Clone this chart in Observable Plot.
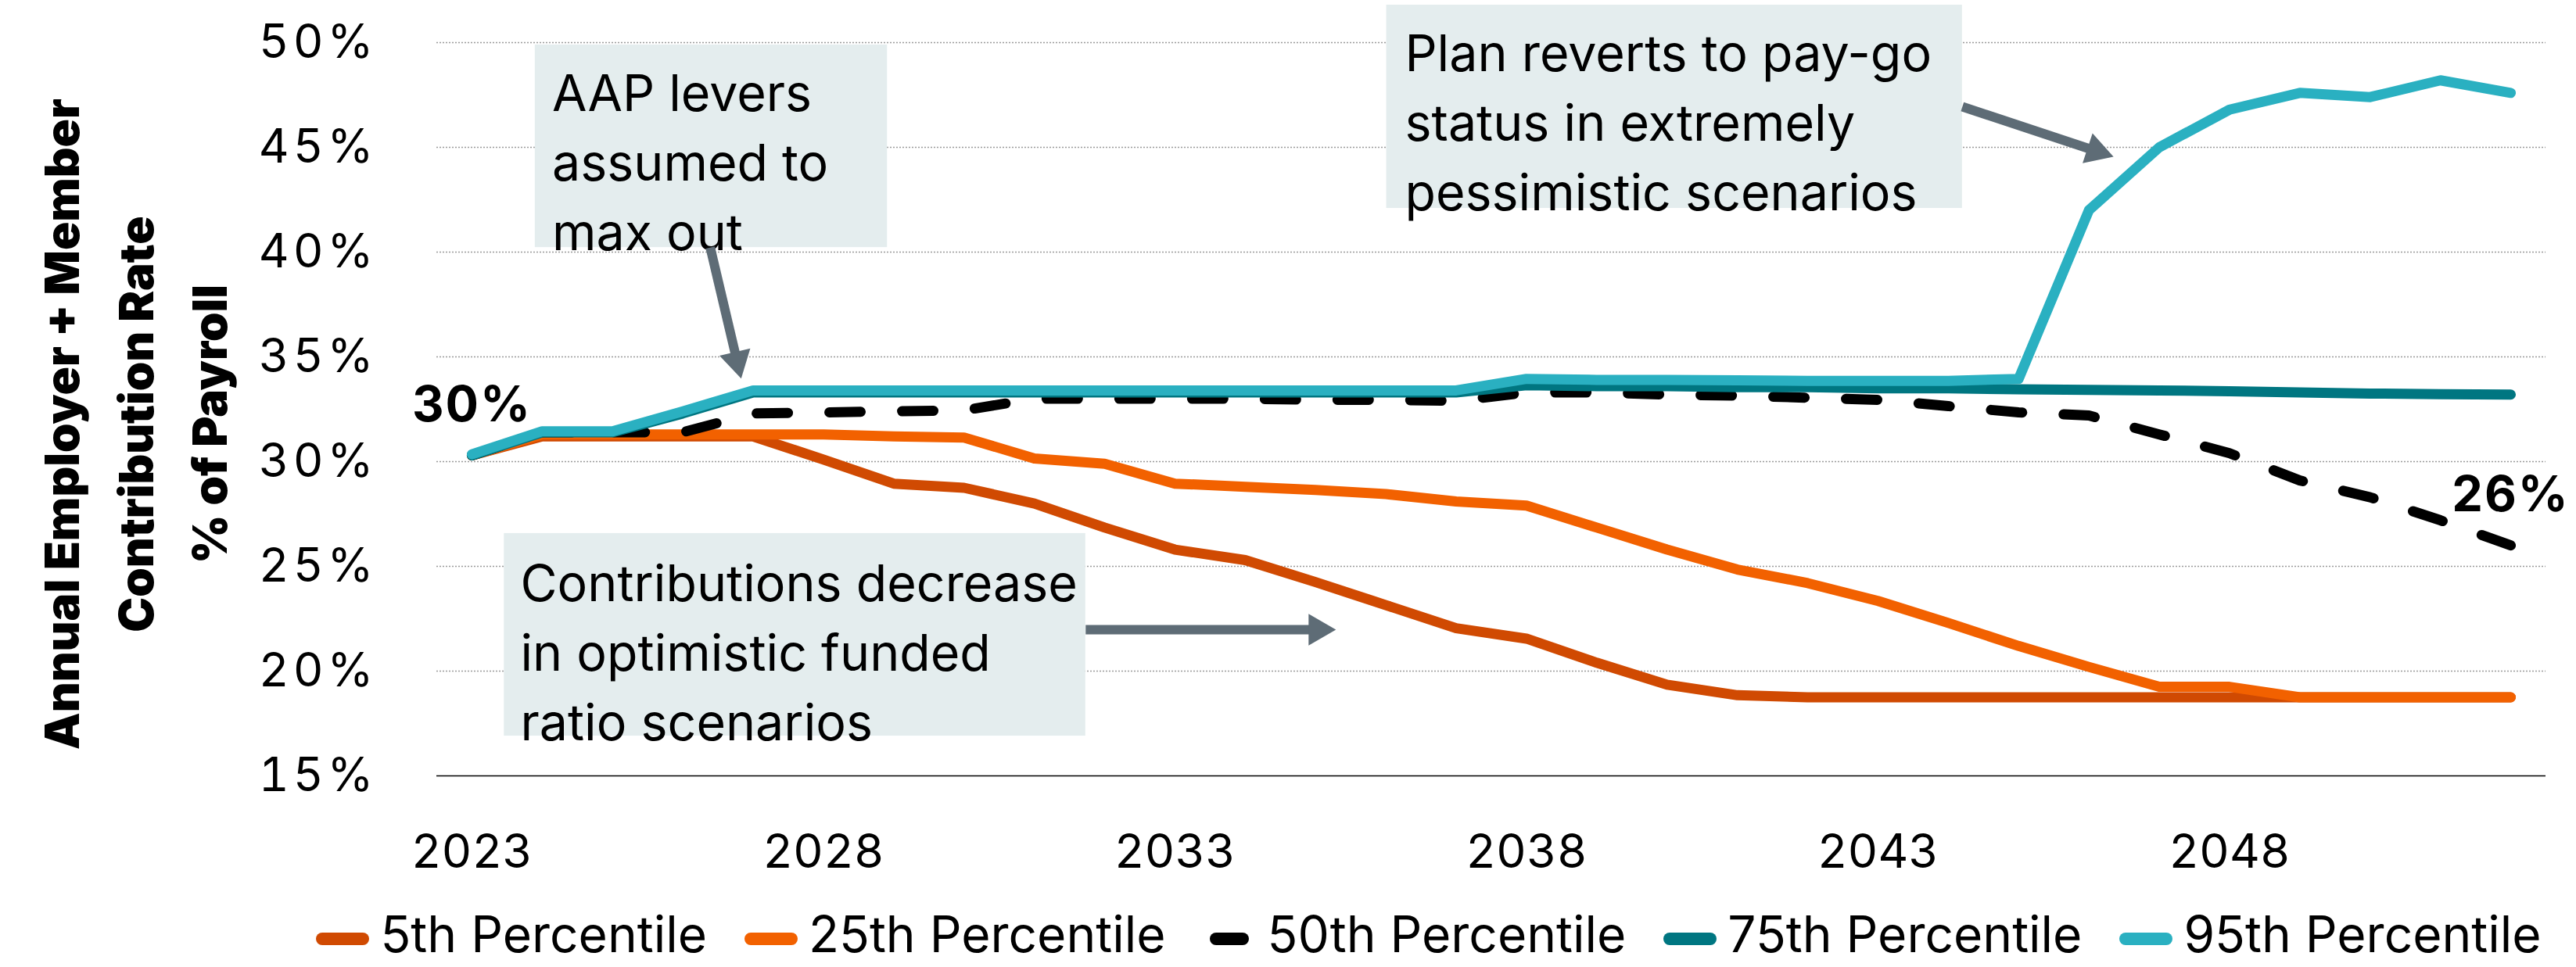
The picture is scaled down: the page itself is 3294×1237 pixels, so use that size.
<!DOCTYPE html>
<html>
<head>
<meta charset="utf-8">
<script src="https://cdn.jsdelivr.net/npm/d3@7"></script>
<script src="https://cdn.jsdelivr.net/npm/@observablehq/plot@0.6"></script>
<style>
  html, body { margin: 0; padding: 0; background: #fff; }
  #chart { position: relative; width: 3294px; height: 1237px; font-family: Inter, sans-serif; }
  .legend { display: flex; justify-content: center; align-items: center; height: 80px; padding: 10px 0 0 360px; box-sizing: border-box; font-size: 64px; color: #000; }
  .item { display: flex; align-items: center; margin: 0 24px; line-height: 1; white-space: nowrap; }
  .sw { display: inline-block; width: 68px; height: 16px; border-radius: 8px; margin-right: 14px; position: relative; top: 6px; }
  .sw.dash { width: 50px; margin-left: 9px; margin-right: 23px; }
  g[aria-label="y-axis tick label"] text { letter-spacing: 5px; }
  .end-label text { letter-spacing: 2px; }
</style>
</head>
<body>
<div id="chart"></div>
<script>
// Projection years
const years = [2023, 2024, 2025, 2026, 2027, 2028, 2029, 2030, 2031, 2032,
               2033, 2034, 2035, 2036, 2037, 2038, 2039, 2040, 2041, 2042,
               2043, 2044, 2045, 2046, 2047, 2048, 2049, 2050, 2051, 2052];

// Employer + member contribution rate (% of payroll) by percentile outcome
const p5  = [30.3, 31.2, 31.2, 31.2, 31.2, 30.1, 28.95, 28.75, 28.0, 26.85,
             25.8, 25.3, 24.25, 23.15, 22.05, 21.55, 20.4, 19.35, 18.85, 18.75,
             18.75, 18.75, 18.75, 18.75, 18.75, 18.75, 18.75, 18.75, 18.75, 18.75];
const p25 = [30.3, 31.3, 31.3, 31.3, 31.3, 31.3, 31.2, 31.15, 30.15, 29.9,
             28.95, 28.8, 28.65, 28.45, 28.1, 27.9, 26.85, 25.8, 24.85, 24.2,
             23.35, 22.3, 21.2, 20.2, 19.25, 19.25, 18.75, 18.75, 18.75, 18.75];
const p50 = [30.3, 31.4, 31.4, 31.4, 32.3, 32.35, 32.4, 32.45, 33.0, 33.0,
             33.0, 33.0, 32.95, 32.95, 32.9, 33.3, 33.3, 33.2, 33.15, 33.05,
             32.95, 32.65, 32.35, 32.2, 31.3, 30.4, 29.1, 28.3, 27.2, 26.0];
const p75 = [30.3, 31.4, 31.4, 32.3, 33.3, 33.3, 33.3, 33.3, 33.3, 33.3,
             33.3, 33.3, 33.3, 33.3, 33.3, 33.65, 33.6, 33.6, 33.55, 33.55,
             33.5, 33.5, 33.45, 33.42, 33.4, 33.36, 33.3, 33.25, 33.22, 33.2];
const p95 = [30.35, 31.45, 31.45, 32.4, 33.4, 33.4, 33.4, 33.4, 33.4, 33.4,
             33.4, 33.4, 33.4, 33.4, 33.4, 33.95, 33.9, 33.9, 33.88, 33.85,
             33.85, 33.85, 33.95, 42.0, 45.0, 46.8, 47.6, 47.4, 48.2, 47.6];

const seriesNames  = ["5th Percentile", "25th Percentile", "50th Percentile", "75th Percentile", "95th Percentile"];
const seriesValues = [p5, p25, p50, p75, p95];
const seriesColors = ["#D04A02", "#F26100", "#000000", "#007681", "#2AB0C1"];

const xTicks = [2023, 2028, 2033, 2038, 2043, 2048];
const yTicks = [15, 20, 25, 30, 35, 40, 45, 50];

const yTitle = "Annual Employer + Member\nContribution Rate\n% of Payroll";

// Callout boxes, anchored in data units (year, percent)
const notes = [
  {text: "AAP levers\nassumed to\nmax out",
   x1: 2023.90, x2: 2028.91, y1: 40.22, y2: 49.89, tx: 2024.14, ty: 49.08},
  {text: "Plan reverts to pay-go\nstatus in extremely\npessimistic scenarios",
   x1: 2036.01, x2: 2044.20, y1: 42.09, y2: 51.79, tx: 2036.27, ty: 51.0},
  {text: "Contributions decrease\nin optimistic funded\nratio scenarios",
   x1: 2023.46, x2: 2031.73, y1: 16.90, y2: 26.57, tx: 2023.69, ty: 25.70}
];

// Callout arrows: tail -> tip, in data units
const arrows = [
  {x1: 2026.39, y1: 40.22, x2: 2026.83, y2: 33.96},
  {x1: 2044.20, y1: 46.94, x2: 2046.35, y2: 44.55},
  {x1: 2031.73, y1: 21.98, x2: 2035.29, y2: 21.98}
];

const W = 3294, H = 1150;
const mL = 558, mR = 39, mT = 54, mB = 158;
const xDomain = [2022.5, 2052.5];
const yDomain = [15, 50];

const pct = d => `${d}%`;

// one table per series
const tables = seriesValues.map((vals, s) =>
  years.map((year, i) => ({year, value: vals[i], series: seriesNames[s]})));

// arrow geometry: shaft + filled triangular head, computed through the scales
const xScale = Plot.scale({x: {domain: xDomain, range: [mL, W - mR]}});
const yScale = Plot.scale({y: {domain: yDomain, range: [H - mB, mT]}});
const headR = 15;
const headHalf = Math.sqrt(Math.PI * headR * headR / (3 * Math.sqrt(3)));
const arrowParts = arrows.map(a => {
  const sx = xScale.apply(a.x1), sy = yScale.apply(a.y1);
  const tx = xScale.apply(a.x2), ty = yScale.apply(a.y2);
  const len = Math.hypot(tx - sx, ty - sy);
  const ux = (tx - sx) / len, uy = (ty - sy) / len;
  const back = 3 * headHalf - 3;
  return {
    x1: a.x1, y1: a.y1,
    x2: xScale.invert(tx - ux * back), y2: yScale.invert(ty - uy * back),
    hx: xScale.invert(tx - ux * 2 * headHalf), hy: yScale.invert(ty - uy * 2 * headHalf),
    angle: Math.atan2(ux, -uy) * 180 / Math.PI
  };
});

const endLabels = [
  {year: years[0], value: p50[0]},
  {year: years[years.length - 1], value: p50[p50.length - 1]}
];

const lineMarks = tables.map((rows, s) => Plot.line(rows, {
  x: "year", y: "value",
  stroke: seriesColors[s],
  strokeWidth: 13,
  strokeLinecap: "round",
  strokeLinejoin: "round",
  strokeDasharray: s === 2 ? "40,53" : null
}));

const chart = Plot.plot({
  width: W, height: H,
  marginLeft: mL, marginRight: mR, marginTop: mT, marginBottom: mB,
  x: {type: "linear", domain: xDomain},
  y: {domain: yDomain},
  style: {fontFamily: "Inter, sans-serif", fontSize: "60px", color: "#000", background: "#fff", overflow: "visible"},
  marks: [
    Plot.gridY(yTicks.filter(t => t > 15), {stroke: "#9a9a9a", strokeOpacity: 1, strokeWidth: 1.5, strokeDasharray: "2,2"}),
    Plot.ruleY([15], {stroke: "#000", strokeWidth: 1.5}),
    Plot.axisX({ticks: xTicks, tickFormat: d => String(d), tickSize: 0, tickPadding: 75, fontSize: 60, label: null}),
    Plot.axisY({ticks: yTicks, tickFormat: pct, tickSize: 0, tickPadding: 76, fontSize: 60, label: null}),
    Plot.text([yTitle], {frameAnchor: "left", rotate: -90, dx: -393, dy: 19, fontSize: 60, fontWeight: 900,
      lineHeight: 1.575, textAnchor: "middle", lineAnchor: "middle", fill: "#000"}),
    ...lineMarks,
    Plot.rect(notes, {x1: "x1", x2: "x2", y1: "y1", y2: "y2", fill: "#E4EDEE"}),
    Plot.text(notes, {x: "tx", y: "ty", text: "text", textAnchor: "start", lineAnchor: "top",
      lineHeight: 1.38, fontSize: 64.5, fill: "#000"}),
    Plot.link(arrowParts, {x1: "x1", y1: "y1", x2: "x2", y2: "y2", stroke: "#5E6C76", strokeWidth: 12}),
    Plot.dot(arrowParts, {x: "hx", y: "hy", symbol: "triangle", r: headR, fill: "#5E6C76", stroke: "none", rotate: "angle"}),
    Plot.text(endLabels, {x: "year", y: "value", text: d => pct(Math.round(d.value)), dy: -64,
      fontSize: 63, fontWeight: 700, fill: "#000", className: "end-label"})
  ]
});

const root = document.getElementById("chart");
root.appendChild(chart);

// legend below the plot
const legend = document.createElement("div");
legend.className = "legend";
seriesNames.forEach((name, s) => {
  const item = document.createElement("div");
  item.className = "item";
  const sw = document.createElement("span");
  sw.className = s === 2 ? "sw dash" : "sw";
  sw.style.background = seriesColors[s];
  const label = document.createElement("span");
  label.textContent = name;
  item.appendChild(sw);
  item.appendChild(label);
  legend.appendChild(item);
});
root.appendChild(legend);
</script>
</body>
</html>
